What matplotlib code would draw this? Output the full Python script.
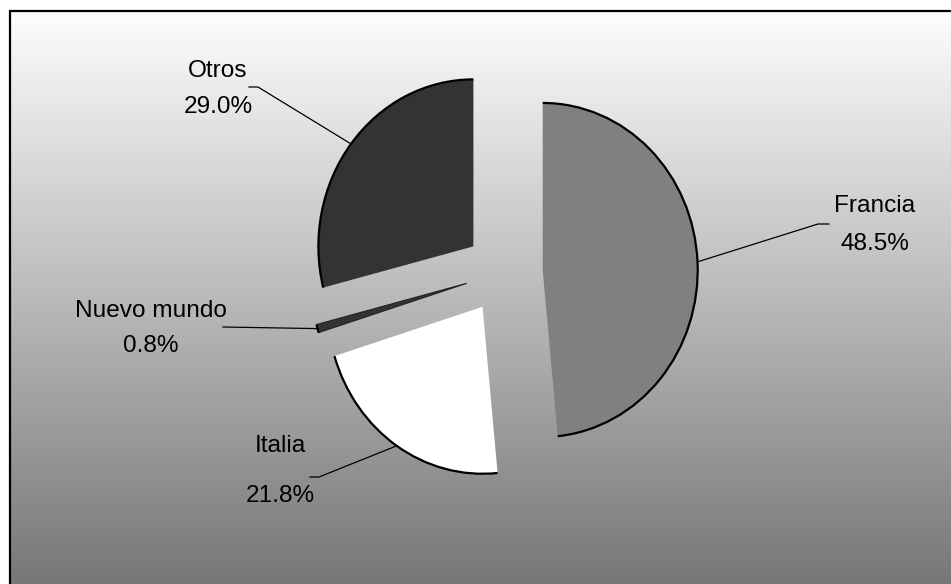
import numpy as np
import matplotlib
matplotlib.use("Agg")
import matplotlib.pyplot as plt
from matplotlib import patches

# ---- data ----
categories = ["Francia", "Italia", "Nuevo mundo", "Otros"]
shares = [48.5, 21.8, 0.8, 29.0]
slice_colors = ["#808080", "#FFFFFF", "#333333", "#333333"]
explode = [0.25, 0.25, 0.25, 0.25]

W, H = 951, 584
fig = plt.figure(figsize=(W / 100, H / 100), dpi=100)
fig.patch.set_facecolor("white")

# ---- background (pixel coordinates) ----
bg = fig.add_axes([0, 0, 1, 1])
bg.set_xlim(0, W)
bg.set_ylim(H, 0)
bg.axis("off")
grad = np.linspace(253, 119, 256).reshape(-1, 1) / 255.0
bg.imshow(np.dstack([grad, grad, grad]), extent=[9.5, W, H, 10.5],
          aspect="auto", interpolation="bilinear", zorder=0)
bg.plot([9.5, 9.5, W], [H, 10.5, 10.5], color="black", lw=1.6, zorder=1,
        solid_joinstyle="miter")

# ---- pie ----
cx_px, cy_px = 504, 272       # pie centre in pixels (y from top)
rx_px, ry_px = 155, 167       # radius scale in pixels

ax = fig.add_axes([0, 0, 1, 1])
ax.patch.set_alpha(0)
wedges, _ = ax.pie(shares, colors=slice_colors, explode=explode,
                   startangle=90, counterclock=False, radius=1.0,
                   wedgeprops=dict(linewidth=0))
ax.set_aspect("auto")
ax.set_xlim(-cx_px / rx_px, (W - cx_px) / rx_px)
ax.set_ylim(-(H - cy_px) / ry_px, cy_px / ry_px)
ax.axis("off")


def to_data(px, py):
    return (px - cx_px) / rx_px, (cy_px - py) / ry_px


for i, w in enumerate(wedges):
    arc = patches.Arc(w.center, 2 * w.r, 2 * w.r, theta1=w.theta1,
                      theta2=w.theta2, color="black", lw=1.6, zorder=3)
    ax.add_patch(arc)
    if categories[i] == "Nuevo mundo":
        w.set_edgecolor("#222222")
        w.set_linewidth(0.8)

# label layout in pixels: (centre x, name baseline, pct baseline, leader anchor list)
label_pos = {
    "Francia": (875, 211.7, 250.0, [(829, 224), (818, 224)]),
    "Italia": (280, 451.7, 501.7, [(310, 477), (319, 477)]),
    "Nuevo mundo": (151, 316.7, 351.7, [(223, 327)]),
    "Otros": (218, 76.7, 113.3, [(249, 87), (258, 87)]),
}

fs = 17.6
for i, w in enumerate(wedges):
    name = categories[i]
    x, yb1, yb2, anchors = label_pos[name]
    bg.text(x, yb1, name, ha="center", va="baseline", fontsize=fs,
            family="Liberation Sans", color="black", zorder=5)
    bg.text(x, yb2, f"{shares[i]:.1f}%", ha="center", va="baseline",
            fontsize=fs, family="Liberation Sans", color="black", zorder=5)
    mid = np.deg2rad((w.theta1 + w.theta2) / 2)
    ex = w.center[0] + w.r * np.cos(mid)
    ey = w.center[1] + w.r * np.sin(mid)
    pts = [to_data(*a) for a in anchors] + [(ex, ey)]
    ax.plot([p[0] for p in pts], [p[1] for p in pts], color="black",
            lw=0.9, zorder=4)

fig.savefig("out.png", dpi=100)
